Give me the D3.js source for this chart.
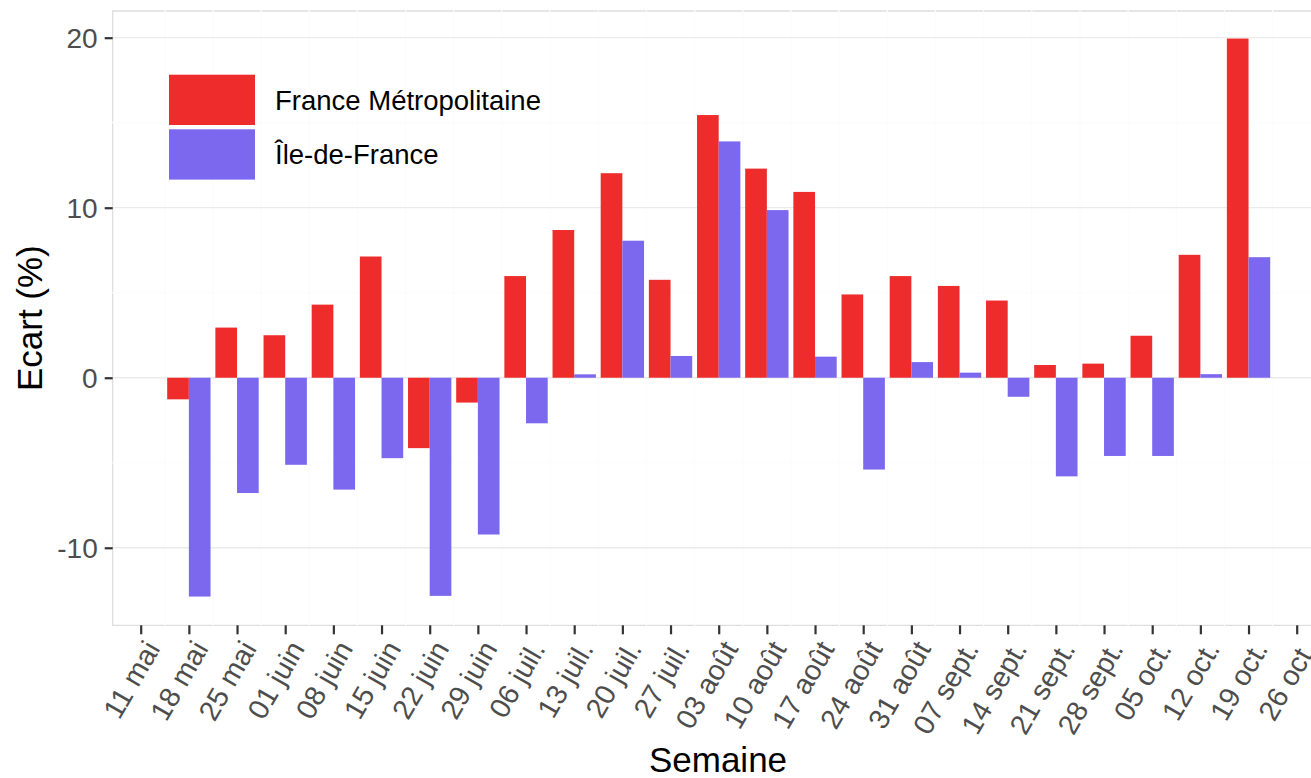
<!DOCTYPE html>
<html lang="fr">
<head>
<meta charset="utf-8">
<title>Ecart hebdomadaire (%)</title>
<script src="https://cdn.jsdelivr.net/npm/d3@7"></script>
<style>
  html, body { margin: 0; padding: 0; background: #ffffff; }
  svg { display: block; font-family: "Liberation Sans", Arial, Helvetica, sans-serif; }
</style>
</head>
<body>
<svg id="chart" width="1311" height="778"></svg>
<script>
// Weekly tick labels (Mondays, 2020)
const tickLabels = ["11 mai", "18 mai", "25 mai", "01 juin", "08 juin", "15 juin", "22 juin",
  "29 juin", "06 juil.", "13 juil.", "20 juil.", "27 juil.", "03 août", "10 août", "17 août",
  "24 août", "31 août", "07 sept.", "14 sept.", "21 sept.", "28 sept.", "05 oct.", "12 oct.",
  "19 oct.", "26 oct."];
const firstTick = "2020-05-11";

// Weeks that carry bars
const weeks = ["2020-05-18", "2020-05-25", "2020-06-01", "2020-06-08", "2020-06-15",
  "2020-06-22", "2020-06-29", "2020-07-06", "2020-07-13", "2020-07-20", "2020-07-27",
  "2020-08-03", "2020-08-10", "2020-08-17", "2020-08-24", "2020-08-31", "2020-09-07",
  "2020-09-14", "2020-09-21", "2020-09-28", "2020-10-05", "2020-10-12", "2020-10-19"];

const seriesNames = ["France Métropolitaine", "Île-de-France"];
const seriesColors = ["#EE2C2C", "#7B68EE"];

const franceMetro = [-1.27, 2.95, 2.50, 4.30, 7.13, -4.14, -1.46, 5.98, 8.69, 12.03, 5.76,
  15.45, 12.30, 10.93, 4.90, 5.98, 5.40, 4.54, 0.75, 0.83, 2.47, 7.23, 19.95];
const ileDeFrance = [-12.87, -6.78, -5.12, -6.58, -4.73, -12.83, -9.22, -2.68, 0.20, 8.06, 1.28,
  13.90, 9.86, 1.24, -5.40, 0.92, 0.30, -1.12, -5.80, -4.60, -4.60, 0.21, 7.09];

const yTicks = [-10, 0, 10, 20];
const yTickLabels = ["-10", "0", "10", "20"];
const yMinor = [-5, 5, 15];

// ---- layout ----
const svg = d3.select("#chart");
const W = 1311, H = 778;
const panel = { left: 112.7, top: 11, right: 1330, bottom: 625.3 };

const parse = d3.utcParse("%Y-%m-%d");
const tickDates = tickLabels.map((_, i) => d3.utcDay.offset(parse(firstTick), 7 * i));

const x = d3.scaleUtc()
  .domain([tickDates[0], tickDates[tickDates.length - 1]])
  .range([140.7, 1296.7]);

const y = d3.scaleLinear()
  .domain([-14.56, 21.57])
  .range([panel.bottom, panel.top]);

const weekPx = x(tickDates[1]) - x(tickDates[0]);
const dodge = 0.9 * weekPx;
const barW = dodge / 2;

svg.append("rect").attr("width", W).attr("height", H).attr("fill", "#ffffff");

// panel outline
const g = svg.append("g");
g.append("path")
  .attr("d", `M${panel.right},${panel.top}H${panel.left}V${panel.bottom}H${panel.right}`)
  .attr("fill", "none").attr("stroke", "#dedede").attr("stroke-width", 1.3);

// minor grid (very faint)
const minorX = tickDates.slice(0, -1).map((d, i) => new Date((+d + +tickDates[i + 1]) / 2));
g.selectAll("line.minor-x").data(minorX).join("line")
  .attr("x1", d => x(d)).attr("x2", d => x(d))
  .attr("y1", panel.top - 1).attr("y2", panel.bottom + 1)
  .attr("stroke", "#fcfcfc").attr("stroke-width", 1.2);
g.selectAll("line.minor-y").data(yMinor).join("line")
  .attr("x1", panel.left - 1).attr("x2", panel.right)
  .attr("y1", d => y(d)).attr("y2", d => y(d))
  .attr("stroke", "#fcfcfc").attr("stroke-width", 1.2);

// major horizontal grid
g.selectAll("line.major-y").data(yTicks).join("line")
  .attr("x1", panel.left).attr("x2", panel.right)
  .attr("y1", d => y(d)).attr("y2", d => y(d))
  .attr("stroke", "#ebebeb").attr("stroke-width", 1.3);

// bars
const rows = weeks.map((w, i) => ({ date: parse(w), vals: [franceMetro[i], ileDeFrance[i]] }));
const bars = svg.append("g");
rows.forEach(r => {
  r.vals.forEach((v, k) => {
    const x0 = x(r.date) - dodge / 2 + k * barW;
    bars.append("rect")
      .attr("x", x0)
      .attr("width", barW)
      .attr("y", y(Math.max(0, v)))
      .attr("height", Math.abs(y(v) - y(0)))
      .attr("fill", seriesColors[k]);
  });
});

// y axis
const yAxis = svg.append("g").attr("transform", `translate(${panel.left},0)`)
  .call(d3.axisLeft(y).tickValues(yTicks).tickSize(8).tickPadding(7)
    .tickFormat((d, i) => yTickLabels[i]));
yAxis.select(".domain").remove();
yAxis.selectAll(".tick line").attr("stroke", "#333333").attr("stroke-width", 2.2);
yAxis.selectAll(".tick text")
  .attr("fill", "#4d4d4d").attr("font-size", 28).attr("font-family", null)
  .attr("dy", "0.36em");

// x axis
const xAxis = svg.append("g").attr("transform", `translate(0,${panel.bottom})`)
  .call(d3.axisBottom(x).tickValues(tickDates).tickSize(9).tickFormat((d, i) => tickLabels[i]));
xAxis.select(".domain").remove();
xAxis.selectAll(".tick line").attr("stroke", "#333333").attr("stroke-width", 2.2);
xAxis.selectAll(".tick text")
  .attr("fill", "#4d4d4d").attr("font-size", 28.5).attr("font-family", null)
  .attr("text-anchor", "end")
  .attr("y", 0).attr("dy", "0.72em")
  .attr("transform", "translate(2,13) rotate(-60)");

// axis titles
svg.append("text")
  .attr("x", 718).attr("y", 772)
  .attr("text-anchor", "middle").attr("font-size", 35).attr("fill", "#000")
  .text("Semaine");
svg.append("text")
  .attr("transform", `translate(42,${(panel.top + panel.bottom) / 2}) rotate(-90)`)
  .attr("text-anchor", "middle").attr("font-size", 35).attr("fill", "#000")
  .text("Ecart (%)");

// legend
const legend = svg.append("g").attr("transform", "translate(169,74.7)");
seriesNames.forEach((name, k) => {
  const row = legend.append("g").attr("transform", `translate(0,${k * 54.6})`);
  row.append("rect").attr("width", 86).attr("height", 50.3).attr("fill", seriesColors[k]);
  row.append("text").attr("x", 106).attr("y", 25.2).attr("dy", "0.36em")
    .attr("font-size", 27.5).attr("fill", "#000").text(name);
});
</script>
</body>
</html>
